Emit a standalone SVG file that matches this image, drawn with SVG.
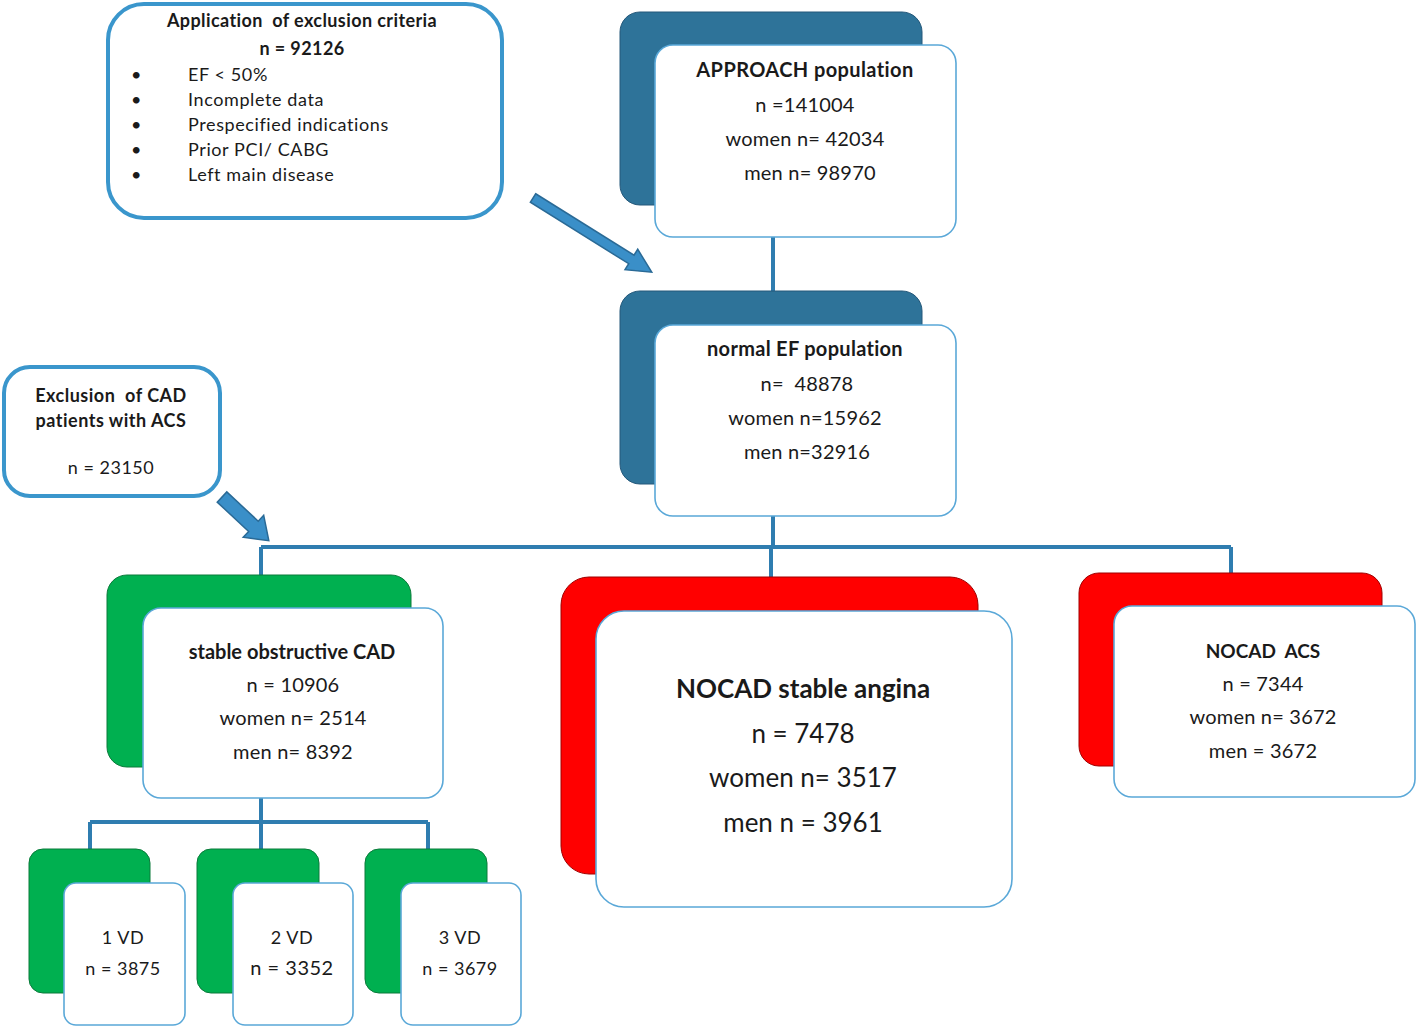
<svg xmlns="http://www.w3.org/2000/svg" width="1418" height="1028" viewBox="0 0 1418 1028">
<style>
.t{font-family:Lato,"Liberation Sans",sans-serif;fill:#1a1a1a;text-anchor:middle;white-space:pre}
.b{font-weight:bold}
.s{font-size:18px;letter-spacing:0.5px}
.m{font-size:20px;letter-spacing:0.2px}
.back-blue{fill:#2e7399;stroke:#24587a;stroke-width:1}
.back-green{fill:#00b050;stroke:#0a7a3a;stroke-width:1}
.back-red{fill:#ff0000;stroke:#a00000;stroke-width:1}
.front{fill:#fff;stroke:#5aa8d8;stroke-width:1.6}
.callout{fill:#fff;stroke:#3a96cc;stroke-width:4}
.conn{fill:none;stroke:#2f7db0;stroke-width:4}
.arrow{fill:#3a8fc8;stroke:#2a6a96;stroke-width:1.5}
</style>
<g id="connectors">
<path class="conn" d="M773 237 V292"/>
<path class="conn" d="M773 516 V547 M261 547 H1231 M261 547 V576 M771 547 V578 M1231 547 V574"/>
<path class="conn" d="M261 798 V822 M90 822 H428 M90 822 V850 M261 822 V850 M428 822 V850"/>
<polygon class="arrow" transform="translate(533,198) rotate(32)" points="0,-5 116,-5 116,-12 140,0 116,12 116,5 0,5"/>
<polygon class="arrow" transform="translate(222,497) rotate(43)" points="0,-7 43,-7 43,-15 64,0 43,15 43,7 0,7"/>
</g>
<g id="exclusion-criteria">
<rect class="callout" x="108" y="4" width="394" height="214" rx="36"/>
<text class="t b" x="302" y="27" font-size="18" letter-spacing="0.4">Application  of exclusion criteria</text>
<text class="t b" x="302" y="55" font-size="18" letter-spacing="0.4">n = 92126</text>
<g class="t" font-size="18" letter-spacing="0.6" style="text-anchor:start">
<text x="131" y="81">•</text><text x="188" y="81">EF &lt; 50%</text>
<text x="131" y="106">•</text><text x="188" y="106">Incomplete data</text>
<text x="131" y="131">•</text><text x="188" y="131">Prespecified indications</text>
<text x="131" y="156">•</text><text x="188" y="156">Prior PCI/ CABG</text>
<text x="131" y="181">•</text><text x="188" y="181">Left  main disease</text>
</g>
</g>
<g id="approach">
<rect class="back-blue" x="620" y="12" width="302" height="193" rx="20"/>
<rect class="front" x="655" y="45" width="301" height="192" rx="18"/>
<text class="t b" x="805" y="77" font-size="20" letter-spacing="0.4">APPROACH population</text>
<text class="t m" x="805" y="112">n =141004</text>
<text class="t m" x="805" y="146">women n= 42034</text>
<text class="t m" x="810" y="180">men n= 98970</text>
</g>
<g id="normal-ef">
<rect class="back-blue" x="620" y="291" width="302" height="193" rx="20"/>
<rect class="front" x="655" y="325" width="301" height="191" rx="18"/>
<text class="t b" x="805" y="356" font-size="20" letter-spacing="0.3">normal EF population</text>
<text class="t m" x="807" y="391">n=  48878</text>
<text class="t m" x="805" y="425">women n=15962</text>
<text class="t m" x="807" y="459">men n=32916</text>
</g>
<g id="exclusion-cad">
<rect class="callout" x="4" y="367" width="216" height="129" rx="26"/>
<text class="t b s" x="111" y="402">Exclusion  of CAD</text>
<text class="t b s" x="111" y="427">patients with ACS</text>
<text class="t s" x="111" y="474">n = 23150</text>
</g>
<g id="stable-cad">
<rect class="back-green" x="107" y="575" width="304" height="192" rx="20"/>
<rect class="front" x="143" y="608" width="300" height="190" rx="18"/>
<text class="t b" x="292" y="659" font-size="20">stable obstructive CAD</text>
<text class="t m" x="293" y="692">n = 10906</text>
<text class="t m" x="293" y="725">women n= 2514</text>
<text class="t m" x="293" y="759">men n= 8392</text>
</g>
<g id="nocad-stable">
<rect class="back-red" x="561" y="577" width="417" height="297" rx="28"/>
<rect class="front" x="596" y="611" width="416" height="296" rx="28"/>
<text class="t b" x="803" y="698" font-size="26">NOCAD stable angina</text>
<text class="t" x="803" y="743" font-size="26">n = 7478</text>
<text class="t" x="803" y="787" font-size="26">women n= 3517</text>
<text class="t" x="803" y="832" font-size="26">men n = 3961</text>
</g>
<g id="nocad-acs">
<rect class="back-red" x="1079" y="573" width="303" height="193" rx="20"/>
<rect class="front" x="1114" y="606" width="301" height="191" rx="18"/>
<text class="t b" x="1263" y="658" font-size="19">NOCAD  ACS</text>
<text class="t m" x="1263" y="691">n = 7344</text>
<text class="t m" x="1263" y="724">women n= 3672</text>
<text class="t m" x="1263" y="758">men = 3672</text>
</g>
<g id="vd1">
<rect class="back-green" x="29" y="849" width="121" height="144" rx="14"/>
<rect class="front" x="64" y="883" width="121" height="142" rx="12"/>
<text class="t s" x="123" y="944">1 VD</text>
<text class="t s" x="123" y="975">n = 3875</text>
</g>
<g id="vd2">
<rect class="back-green" x="197" y="849" width="122" height="144" rx="14"/>
<rect class="front" x="233" y="883" width="120" height="142" rx="12"/>
<text class="t s" x="292" y="944">2 VD</text>
<text class="t" x="292" y="975" font-size="20" letter-spacing="0.5">n = 3352</text>
</g>
<g id="vd3">
<rect class="back-green" x="365" y="849" width="122" height="144" rx="14"/>
<rect class="front" x="401" y="883" width="120" height="142" rx="12"/>
<text class="t s" x="460" y="944">3 VD</text>
<text class="t s" x="460" y="975">n = 3679</text>
</g>
</svg>
